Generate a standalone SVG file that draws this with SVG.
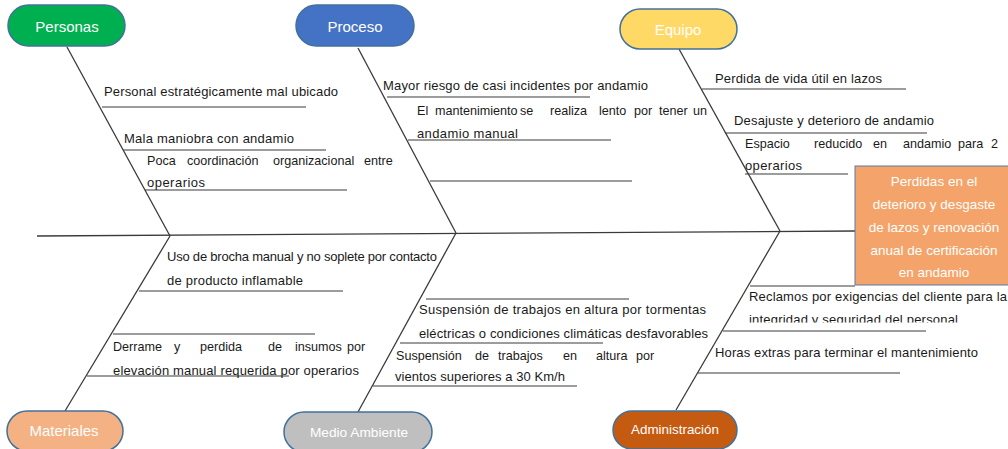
<svg xmlns="http://www.w3.org/2000/svg" width="1008" height="449" viewBox="0 0 1008 449">
<style>
.bone{stroke:#3a3a3a;stroke-width:1.3;fill:none}
.sub{stroke:#3a3a3a;stroke-width:1.1;fill:none}
.t{font-family:"Liberation Sans",Arial,sans-serif;font-size:13px;fill:#1a1a1a}
.j{font-size:12.6px}
.pill{stroke:#41719C;stroke-width:1.5}
.pt{font-family:"Liberation Sans",Arial,sans-serif;font-size:15px;fill:#fff;text-anchor:middle}
.bt{font-family:"Liberation Sans",Arial,sans-serif;font-size:13.5px;fill:#fff;text-anchor:middle}
</style>
<defs>
<clipPath id="clipInteg"><rect x="740" y="305" width="268" height="17.5"/></clipPath>
</defs>
<rect width="1008" height="449" fill="#fff"/>
<g id="connectors">
<line class="bone" x1="37" y1="236" x2="855" y2="231"/>
<line class="bone" x1="67" y1="47" x2="170" y2="236"/>
<line class="bone" x1="358" y1="48" x2="456" y2="233"/>
<line class="bone" x1="679" y1="49" x2="780" y2="231"/>
<line class="bone" x1="65" y1="411" x2="170" y2="236"/>
<line class="bone" x1="358" y1="412" x2="456" y2="233"/>
<line class="bone" x1="676" y1="410" x2="780" y2="231"/>
<line class="sub" x1="102" y1="107" x2="306" y2="107"/>
<line class="sub" x1="123" y1="150" x2="326" y2="150"/>
<line class="sub" x1="145" y1="190" x2="347" y2="190"/>
<line class="sub" x1="387" y1="97" x2="590" y2="97"/>
<line class="sub" x1="408" y1="140" x2="611" y2="140"/>
<line class="sub" x1="430" y1="181" x2="632" y2="181"/>
<line class="sub" x1="702" y1="89" x2="906" y2="89"/>
<line class="sub" x1="725" y1="133" x2="927" y2="133"/>
<line class="sub" x1="745" y1="174" x2="848" y2="174"/>
<line class="sub" x1="139" y1="291" x2="343" y2="291"/>
<line class="sub" x1="113" y1="334" x2="315" y2="334"/>
<line class="sub" x1="87" y1="376" x2="289" y2="376"/>
<line class="sub" x1="426" y1="299" x2="629" y2="299"/>
<line class="sub" x1="400" y1="343" x2="603" y2="343"/>
<line class="sub" x1="373" y1="386" x2="577" y2="386"/>
<line class="sub" x1="750" y1="286" x2="855" y2="286"/>
<line class="sub" x1="723" y1="331" x2="926" y2="331"/>
<line class="sub" x1="698" y1="373" x2="900" y2="373"/>
</g>
<g id="personas">
<rect class="pill" x="8" y="5" width="117" height="41" rx="20.5" fill="#00B050"/>
<text class="pt" x="67" y="32">Personas</text>
<text class="t" x="104" y="96" textLength="234" lengthAdjust="spacing">Personal estratégicamente mal ubicado</text>
<text class="t" x="124" y="143" textLength="170" lengthAdjust="spacing">Mala maniobra con andamio</text>
<text class="t j" y="164.5"><tspan x="147">Poca</tspan> <tspan x="187">coordinación</tspan> <tspan x="273">organizacional</tspan> <tspan x="364">entre</tspan></text>
<text class="t" x="147" y="187" textLength="58" lengthAdjust="spacing">operarios</text>
</g>
<g id="proceso">
<rect class="pill" x="296" y="5" width="118" height="41" rx="20.5" fill="#4472C4"/>
<text class="pt" x="355" y="32">Proceso</text>
<text class="t" x="383" y="89.5" textLength="265" lengthAdjust="spacing">Mayor riesgo de casi incidentes por andamio</text>
<text class="t j" y="114.5"><tspan x="417">El</tspan> <tspan x="435">mantenimiento</tspan> <tspan x="520">se</tspan> <tspan x="550">realiza</tspan> <tspan x="599">lento</tspan> <tspan x="634">por</tspan> <tspan x="659">tener</tspan> <tspan x="693">un</tspan></text>
<text class="t" x="417" y="137.5" textLength="101" lengthAdjust="spacing">andamio manual</text>
</g>
<g id="equipo">
<rect class="pill" x="620" y="9" width="117" height="40" rx="20" fill="#FFD966"/>
<text class="pt" x="678" y="35">Equipo</text>
<text class="t" x="715" y="83" textLength="167" lengthAdjust="spacing">Perdida de vida útil en lazos</text>
<text class="t" x="734" y="124.5" textLength="200" lengthAdjust="spacing">Desajuste y deterioro de andamio</text>
<text class="t j" y="148"><tspan x="745">Espacio</tspan> <tspan x="814">reducido</tspan> <tspan x="873">en</tspan> <tspan x="903">andamio</tspan> <tspan x="958">para</tspan> <tspan x="991">2</tspan></text>
<text class="t" x="745" y="170" textLength="57" lengthAdjust="spacing">operarios</text>
</g>
<g id="resultado">
<rect x="855" y="166" width="158" height="119" fill="#F4A46A" stroke="#5B7BA8" stroke-width="1"/>
<text class="bt" x="934" y="186">Perdidas en el</text>
<text class="bt" x="934" y="209">deterioro y desgaste</text>
<text class="bt" x="934" y="232">de lazos y renovación</text>
<text class="bt" x="934" y="255">anual de certificación</text>
<text class="bt" x="934" y="277">en andamio</text>
</g>
<g id="materiales">
<rect class="pill" x="7" y="411" width="116" height="40" rx="20" fill="#F4B183"/>
<text class="pt" x="64" y="436">Materiales</text>
<text class="t" x="167" y="261" textLength="270" lengthAdjust="spacing">Uso de brocha manual y no soplete por contacto</text>
<text class="t" x="167" y="284.5" textLength="136" lengthAdjust="spacing">de producto inflamable</text>
<text class="t j" y="351"><tspan x="113">Derrame</tspan> <tspan x="174">y</tspan> <tspan x="200">perdida</tspan> <tspan x="268">de</tspan> <tspan x="295">insumos</tspan> <tspan x="347">por</tspan></text>
<text class="t" x="113" y="374.5" textLength="246" lengthAdjust="spacing">elevación manual requerida por operarios</text>
</g>
<g id="medio-ambiente">
<rect class="pill" x="284" y="412" width="148" height="40" rx="20" fill="#BFBFBF"/>
<text class="pt" x="359" y="437" style="font-size:13.7px">Medio Ambiente</text>
<text class="t" x="419" y="314" textLength="287" lengthAdjust="spacing">Suspensión de trabajos en altura por tormentas</text>
<text class="t" x="419" y="338" textLength="289" lengthAdjust="spacing">eléctricas o condiciones climáticas desfavorables</text>
<text class="t j" y="359.5"><tspan x="396">Suspensión</tspan> <tspan x="475">de</tspan> <tspan x="498">trabajos</tspan> <tspan x="563">en</tspan> <tspan x="596">altura</tspan> <tspan x="636">por</tspan></text>
<text class="t" x="395" y="381" textLength="170" lengthAdjust="spacing">vientos superiores a 30 Km/h</text>
</g>
<g id="administracion">
<rect class="pill" x="613" y="411" width="124" height="38" rx="19" fill="#C55A11"/>
<text class="pt" x="675" y="434" style="font-size:13.4px">Administración</text>
<text class="t" x="749" y="301" textLength="258" lengthAdjust="spacing">Reclamos por exigencias del cliente para la</text>
<text class="t" x="749" y="324" textLength="209" lengthAdjust="spacing" clip-path="url(#clipInteg)">integridad y seguridad del personal</text>
<text class="t" x="715" y="357" textLength="263" lengthAdjust="spacing">Horas extras para terminar el mantenimiento</text>
</g>
</svg>
